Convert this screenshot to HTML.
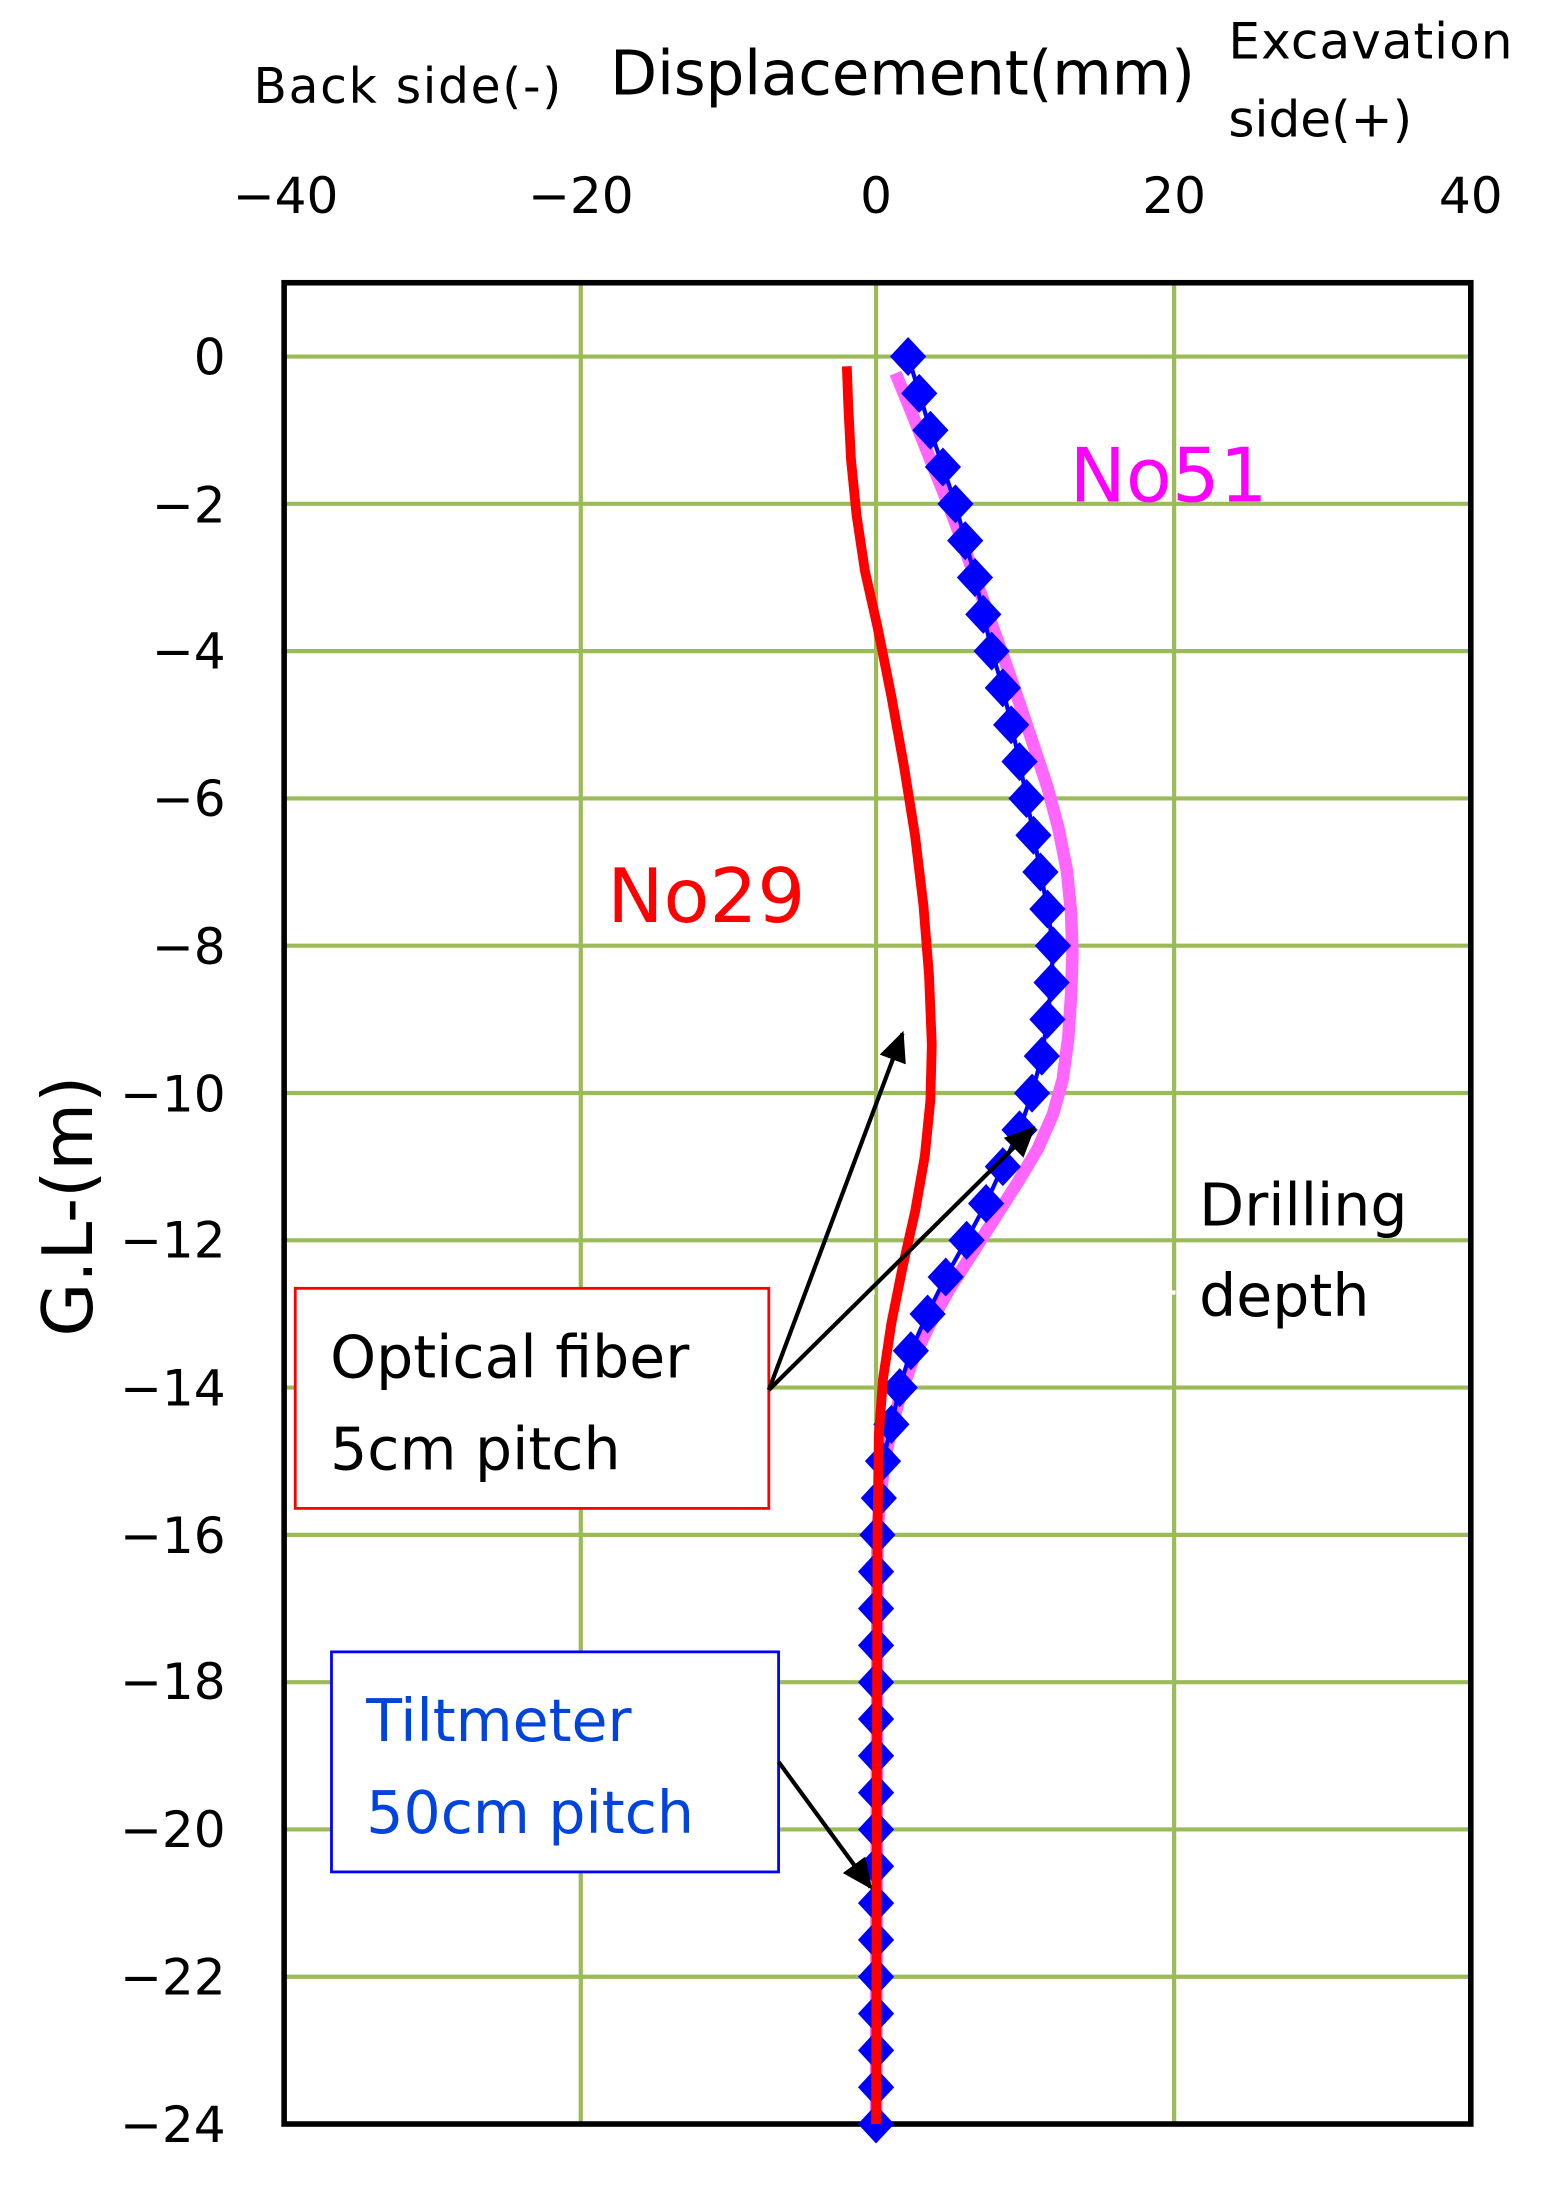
<!DOCTYPE html>
<html><head><style>html,body{margin:0;padding:0;background:#fff}svg{display:block}</style></head>
<body>
<svg width="1546" height="2186" viewBox="0 0 1110 1569.5" preserveAspectRatio="none" xmlns="http://www.w3.org/2000/svg" font-family="'DejaVu Sans','Liberation Sans',sans-serif">
<rect width="1110" height="1570" fill="#fff"/>
<g stroke="#9bbb59" stroke-width="3">
<line x1="417" y1="203" x2="417" y2="1525"/><line x1="629" y1="203" x2="629" y2="1525"/><line x1="843" y1="203" x2="843" y2="1525"/>
<line x1="204" y1="256" x2="1056" y2="256"/><line x1="204" y1="361.75" x2="1056" y2="361.75"/><line x1="204" y1="467.5" x2="1056" y2="467.5"/><line x1="204" y1="573.25" x2="1056" y2="573.25"/><line x1="204" y1="679" x2="1056" y2="679"/><line x1="204" y1="784.75" x2="1056" y2="784.75"/><line x1="204" y1="890.5" x2="1056" y2="890.5"/><line x1="204" y1="996.25" x2="1056" y2="996.25"/><line x1="204" y1="1102" x2="1056" y2="1102"/><line x1="204" y1="1207.75" x2="1056" y2="1207.75"/><line x1="204" y1="1313.5" x2="1056" y2="1313.5"/><line x1="204" y1="1419.25" x2="1056" y2="1419.25"/>
</g>
<line x1="204" y1="928" x2="850" y2="928" stroke="#fff" stroke-width="3" stroke-dasharray="10,8"/>
<rect x="204" y="203" width="852" height="1322" fill="none" stroke="#000" stroke-width="4"/>
<g font-size="36" text-anchor="middle" fill="#000">
<text x="205" y="153">−40</text><text x="417" y="153">−20</text><text x="629" y="153">0</text><text x="843" y="153">20</text><text x="1056" y="153">40</text>
</g>
<g font-size="36" text-anchor="end" fill="#000">
<text x="162" y="269">0</text><text x="162" y="375">−2</text><text x="162" y="480">−4</text><text x="162" y="586">−6</text><text x="162" y="692">−8</text><text x="162" y="798">−10</text><text x="162" y="903">−12</text><text x="162" y="1009">−14</text><text x="162" y="1115">−16</text><text x="162" y="1220">−18</text><text x="162" y="1326">−20</text><text x="162" y="1432">−22</text><text x="162" y="1538">−24</text>
</g>
<text x="182" y="74" font-size="35" textLength="221">Back side(-)</text>
<text x="438" y="68" font-size="44" textLength="420">Displacement(mm)</text>
<text x="882" y="42" font-size="36" textLength="204">Excavation</text>
<text x="882" y="98" font-size="36">side(+)</text>
<text transform="translate(66,866) rotate(-90)" font-size="50" text-anchor="middle">G.L-(m)</text>
<polyline fill="none" stroke="#ff66ff" stroke-width="9" stroke-linejoin="round" points="643,268 652,290 662,315 672,340 682,365 692,392 702,420 712,448 722,476 732,505 742,535 752,565 760,595 766,625 769,655 770,685 769,715 767,745 763,775 756,800 745,825 730,850 714,875 698,900 682,925 668,950 656,975 647,1000 640,1025 635,1050 632,1075 630,1100 629,1525"/>
<polyline fill="none" stroke="#0000ff" stroke-width="3" points="652,256 660,282 668,309 677,335 686,362 693,388 700,414 706,441 712,467 720,494 726,520 732,547 737,573 742,599 747,626 752,652 756,679 755,705 752,732 748,758 741,785 732,811 720,837 708,864 694,890 679,917 666,943 654,970 646,996 640,1023 634,1049 631,1076 630,1102 629,1525"/>
<path fill="#0000ff" d="M652,242l13,14l-13,14l-13,-14z M660,268.4l13,14l-13,14l-13,-14z M668,294.9l13,14l-13,14l-13,-14z M677,321.3l13,14l-13,14l-13,-14z M686,347.8l13,14l-13,14l-13,-14z M693,374.2l13,14l-13,14l-13,-14z M700,400.6l13,14l-13,14l-13,-14z M706,427.1l13,14l-13,14l-13,-14z M712,453.5l13,14l-13,14l-13,-14z M720,479.9l13,14l-13,14l-13,-14z M726,506.4l13,14l-13,14l-13,-14z M732,532.8l13,14l-13,14l-13,-14z M737,559.3l13,14l-13,14l-13,-14z M742,585.7l13,14l-13,14l-13,-14z M747,612.1l13,14l-13,14l-13,-14z M752,638.6l13,14l-13,14l-13,-14z M756,665l13,14l-13,14l-13,-14z M755,691.4l13,14l-13,14l-13,-14z M752,717.9l13,14l-13,14l-13,-14z M748,744.3l13,14l-13,14l-13,-14z M741,770.8l13,14l-13,14l-13,-14z M732,797.2l13,14l-13,14l-13,-14z M720,823.6l13,14l-13,14l-13,-14z M708,850.1l13,14l-13,14l-13,-14z M694,876.5l13,14l-13,14l-13,-14z M679,902.9l13,14l-13,14l-13,-14z M666,929.4l13,14l-13,14l-13,-14z M654,955.8l13,14l-13,14l-13,-14z M646,982.3l13,14l-13,14l-13,-14z M640,1008.7l13,14l-13,14l-13,-14z M634,1035.1l13,14l-13,14l-13,-14z M631,1061.6l13,14l-13,14l-13,-14z M630,1088l13,14l-13,14l-13,-14z M629,1114.4l13,14l-13,14l-13,-14z M629,1140.9l13,14l-13,14l-13,-14z M629,1167.3l13,14l-13,14l-13,-14z M629,1193.8l13,14l-13,14l-13,-14z M629,1220.2l13,14l-13,14l-13,-14z M629,1246.6l13,14l-13,14l-13,-14z M629,1273.1l13,14l-13,14l-13,-14z M629,1299.5l13,14l-13,14l-13,-14z M629,1325.9l13,14l-13,14l-13,-14z M629,1352.4l13,14l-13,14l-13,-14z M629,1378.8l13,14l-13,14l-13,-14z M629,1405.3l13,14l-13,14l-13,-14z M629,1431.7l13,14l-13,14l-13,-14z M629,1458.1l13,14l-13,14l-13,-14z M629,1484.6l13,14l-13,14l-13,-14z M629,1511l13,14l-13,14l-13,-14z"/>
<polyline fill="none" stroke="#ff0000" stroke-width="7" stroke-linejoin="round" points="608,263 609,290 611,330 615,370 621,410 630,450 640,500 649,550 657,600 663,650 667,700 669,750 668,790 664,830 657,870 648,910 640,950 634,990 631,1030 630,1100 629,1525"/>
<text x="436" y="662" font-size="54" fill="#ff0000">No29</text>
<text x="768" y="360" font-size="54" fill="#ff00ff">No51</text>
<text x="861" y="880" font-size="42" fill="#000">Drilling</text>
<text x="861" y="945" font-size="42" fill="#000">depth</text>
<rect x="212" y="925" width="340" height="158" fill="#fff" stroke="#ff0000" stroke-width="2"/>
<text x="237" y="989" font-size="42" fill="#000">Optical fiber</text>
<text x="237" y="1055" font-size="42" fill="#000">5cm pitch</text>
<rect x="238" y="1186" width="321" height="158" fill="#fff" stroke="#0000ff" stroke-width="2"/>
<text x="263" y="1250" font-size="42" fill="#0044dd">Tiltmeter</text>
<text x="263" y="1316" font-size="42" fill="#0044dd">50cm pitch</text>
<defs><marker id="a" markerWidth="22" markerHeight="20" refX="20" refY="10" orient="auto" markerUnits="userSpaceOnUse" viewBox="0 0 22 20"><path d="M0,0 L22,10 L0,20 z" fill="#000"/></marker></defs>
<g stroke="#000" stroke-width="3" fill="none">
<line x1="552" y1="998" x2="648" y2="742" marker-end="url(#a)"/>
<line x1="552" y1="998" x2="742" y2="810" marker-end="url(#a)"/>
<line x1="559" y1="1265" x2="625" y2="1355" marker-end="url(#a)"/>
</g>
</svg>
</body></html>
